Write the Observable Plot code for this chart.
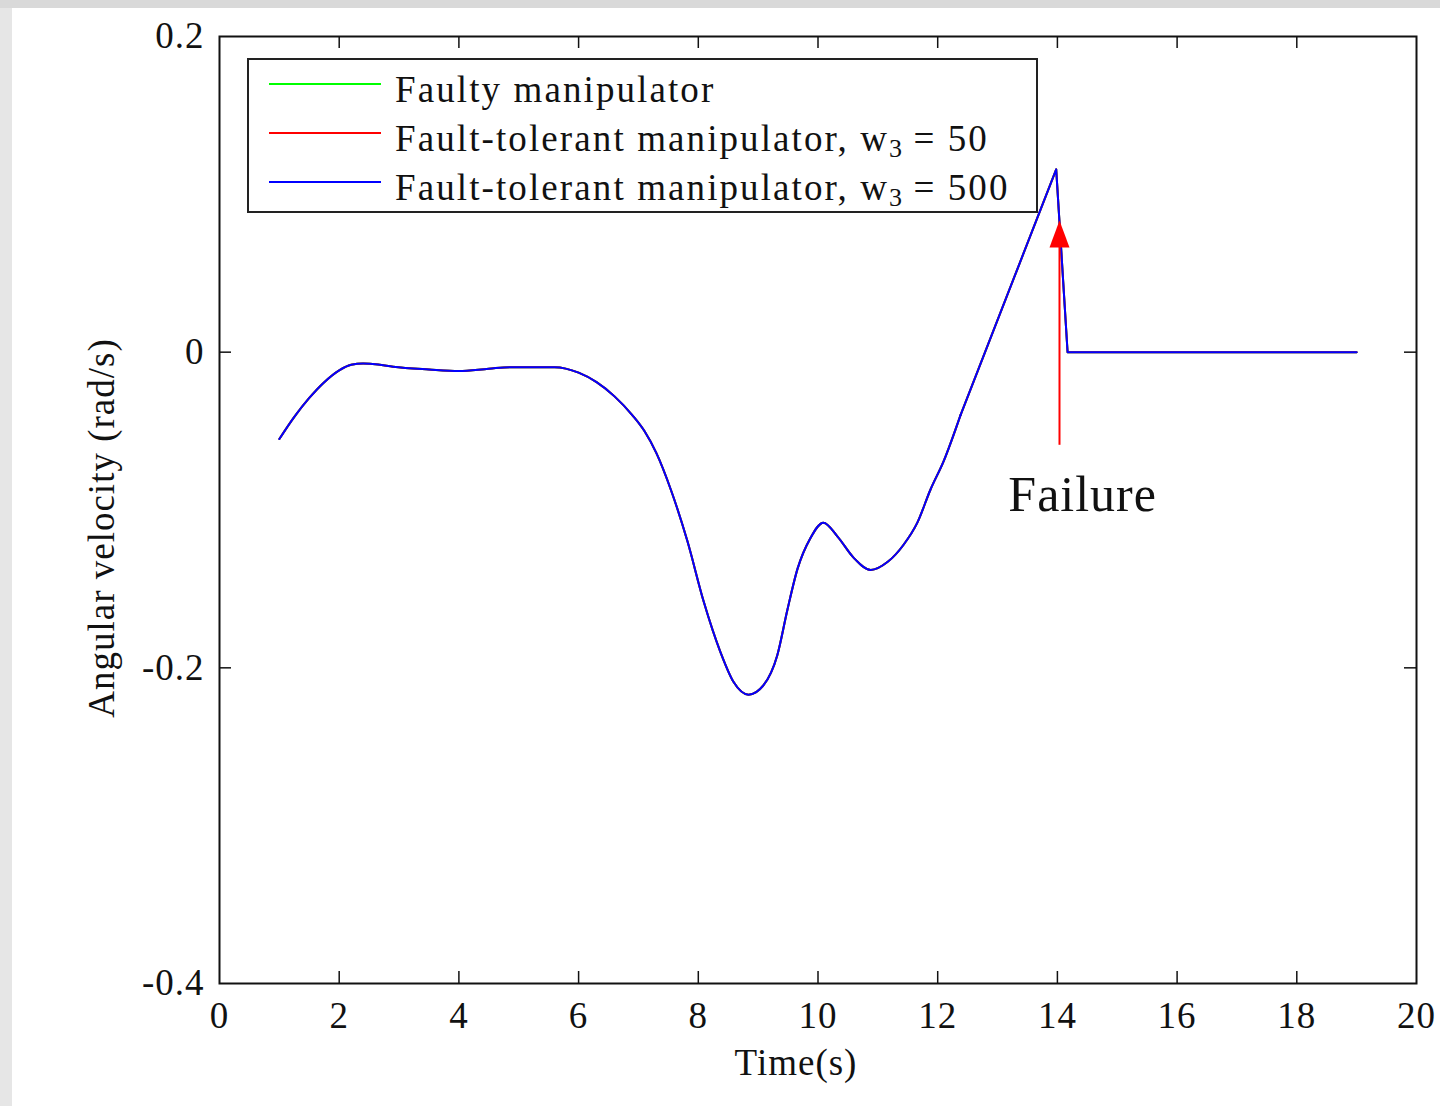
<!DOCTYPE html>
<html>
<head>
<meta charset="utf-8">
<script src="https://cdn.jsdelivr.net/npm/d3@7"></script>
<script src="https://cdn.jsdelivr.net/npm/@observablehq/plot@0.6"></script>
<style>
  html, body { margin: 0; padding: 0; }
  body { width: 1440px; height: 1106px; background: #e6e6e6; position: relative; overflow: hidden; font-family: "Liberation Serif", serif; }
  #topband { position: absolute; left: 0; top: 0; width: 1440px; height: 8px; background: #d9d9d9; }
  #page { position: absolute; left: 12px; top: 8px; width: 1428px; height: 1098px; background: #fff; }
  #legend { position: absolute; left: 235px; top: 50px; width: 791px; height: 155px; box-sizing: border-box; border: 2px solid #222; background: #fff; }
  .key { position: absolute; left: 20px; width: 112px; height: 0; border-top: 2px solid; }
  .lab { position: absolute; left: 146px; height: 40px; line-height: 40px; font-size: 37px; letter-spacing: 2.1px; color: #111; white-space: nowrap; }
  .lab sub { font-size: 26px; line-height: 0; vertical-align: -6px; letter-spacing: 0; }
</style>
</head>
<body>
<div id="topband"></div>
<div id="page"></div>
<script>
// ---- data ----
const time = [1.0, 1.25, 1.5, 1.75, 2.0, 2.2, 2.4, 2.65, 2.9, 3.5, 4.0, 4.5, 4.86, 5.6, 6.0, 6.3, 6.6, 6.9, 7.1, 7.3, 7.54, 7.82, 8.09, 8.37, 8.59, 8.84, 9.09, 9.32, 9.49, 9.66, 9.87, 10.09, 10.33, 10.59, 10.88, 11.16, 11.43, 11.66, 11.88, 12.1, 12.38, 13.98, 14.17, 19.0];
const omegaW500 = [-0.055, -0.041, -0.029, -0.019, -0.0115, -0.008, -0.0072, -0.0078, -0.0092, -0.011, -0.012, -0.0105, -0.0095, -0.0095, -0.013, -0.019, -0.028, -0.040, -0.050, -0.064, -0.087, -0.120, -0.158, -0.190, -0.209, -0.217, -0.211, -0.192, -0.163, -0.137, -0.118, -0.108, -0.117, -0.130, -0.138, -0.133, -0.122, -0.108, -0.087, -0.069, -0.040, 0.1158, 0, 0];
// the green and red series coincide with the blue one and are hidden beneath it
const omegaFaulty = omegaW500;
const omegaW50 = omegaW500;
const smoothEnd = 40; // index where the curve becomes piecewise linear

const seriesNames = ["Faulty manipulator", "Fault-tolerant manipulator, w3 = 50", "Fault-tolerant manipulator, w3 = 500"];
const seriesColors = ["#00ff00", "#ff0000", "#0000ff"];

const xTicks = [0, 2, 4, 6, 8, 10, 12, 14, 16, 18, 20];
const yTicks = [-0.4, -0.2, 0, 0.2];

const arrowData = [{t: 14.035, from: -0.059, to: 0.0835}];
const failureLabel = [{t: 13.18, w: -0.0905, text: "Failure"}];
const xLabel = ["Time(s)"];
const yLabel = ["Angular velocity (rad/s)"];

// ---- build ----
const mk = (vals) => time.map((t, i) => ({t, w: vals[i], i}));
const dFaulty = mk(omegaFaulty), dW50 = mk(omegaW50), dW500 = mk(omegaW500);
const smooth = d => d.filter(p => p.i <= smoothEnd);
const linear = d => d.filter(p => p.i >= smoothEnd);

const W = 1416 - 219, H = 983 - 36, TL = 12;

const headSymbol = {
  draw(ctx) { ctx.moveTo(0, 0); ctx.lineTo(10, 27); ctx.lineTo(-10, 27); ctx.closePath(); }
};

const lineMarks = [];
[[dFaulty, seriesColors[0]], [dW50, seriesColors[1]], [dW500, seriesColors[2]]].forEach(([d, c]) => {
  lineMarks.push(Plot.line(smooth(d), {x: "t", y: "w", stroke: c, strokeWidth: 2, curve: "monotone-x"}));
  lineMarks.push(Plot.line(linear(d), {x: "t", y: "w", stroke: c, strokeWidth: 2, curve: "linear"}));
});

const chart = Plot.plot({
  width: 1428,
  height: 1098,
  marginLeft: 207,
  marginTop: 28,
  marginRight: 24,
  marginBottom: 123,
  style: {fontFamily: "Liberation Serif, serif", fontSize: "37px", color: "#111", background: "transparent", letterSpacing: "1px"},
  x: {domain: [0, 20]},
  y: {domain: [-0.4, 0.2]},
  marks: [
    Plot.ruleX(xTicks.slice(1, -1), {stroke: "#111", strokeWidth: 1.5, insetTop: H - TL}),
    Plot.ruleX(xTicks.slice(1, -1), {stroke: "#111", strokeWidth: 1.5, insetBottom: H - TL}),
    Plot.ruleY(yTicks.slice(1, -1), {stroke: "#111", strokeWidth: 1.5, insetRight: W - TL}),
    Plot.ruleY(yTicks.slice(1, -1), {stroke: "#111", strokeWidth: 1.5, insetLeft: W - TL}),
    Plot.axisX(xTicks, {tickSize: 0, tickPadding: 18, tickFormat: d => String(d), label: null}),
    Plot.axisY(yTicks, {tickSize: 0, tickPadding: 15, tickFormat: d => String(d), label: null}),
    ...lineMarks,
    Plot.ruleX(arrowData, {x: "t", y1: "from", y2: d => d.to - 0.012, stroke: "#ff0000", strokeWidth: 2}),
    Plot.dot(arrowData, {x: "t", y: "to", symbol: headSymbol, fill: "#ff0000", stroke: "none", r: 10}),
    Plot.text(failureLabel, {x: "t", y: "w", text: "text", textAnchor: "start", fontSize: 50, fill: "#111", letterSpacing: "1.5px"}),
    Plot.text(xLabel, {text: d => d, frameAnchor: "bottom", lineAnchor: "middle", dy: 80, dx: -22, fill: "#111"}),
    Plot.text(yLabel, {text: d => d, frameAnchor: "left", textAnchor: "middle", rotate: -90, dx: -117, dy: 18, fill: "#111"}),
    Plot.frame({stroke: "#111", strokeWidth: 2})
  ]
});
document.getElementById("page").appendChild(chart);

// legend
const legend = document.createElement("div");
legend.id = "legend";
const rows = [
  {html: "Faulty manipulator"},
  {html: "Fault-tolerant manipulator, w<sub>3</sub> = 50"},
  {html: "Fault-tolerant manipulator, w<sub>3</sub> = 500"}
];
rows.forEach((r, k) => {
  const key = document.createElement("div");
  key.className = "key";
  key.style.top = (23 + 49 * k) + "px";
  key.style.borderColor = seriesColors[k];
  legend.appendChild(key);
  const lab = document.createElement("div");
  lab.className = "lab";
  lab.style.top = (10 + 49 * k) + "px";
  lab.innerHTML = r.html;
  legend.appendChild(lab);
});
document.getElementById("page").appendChild(legend);
</script>
</body>
</html>
